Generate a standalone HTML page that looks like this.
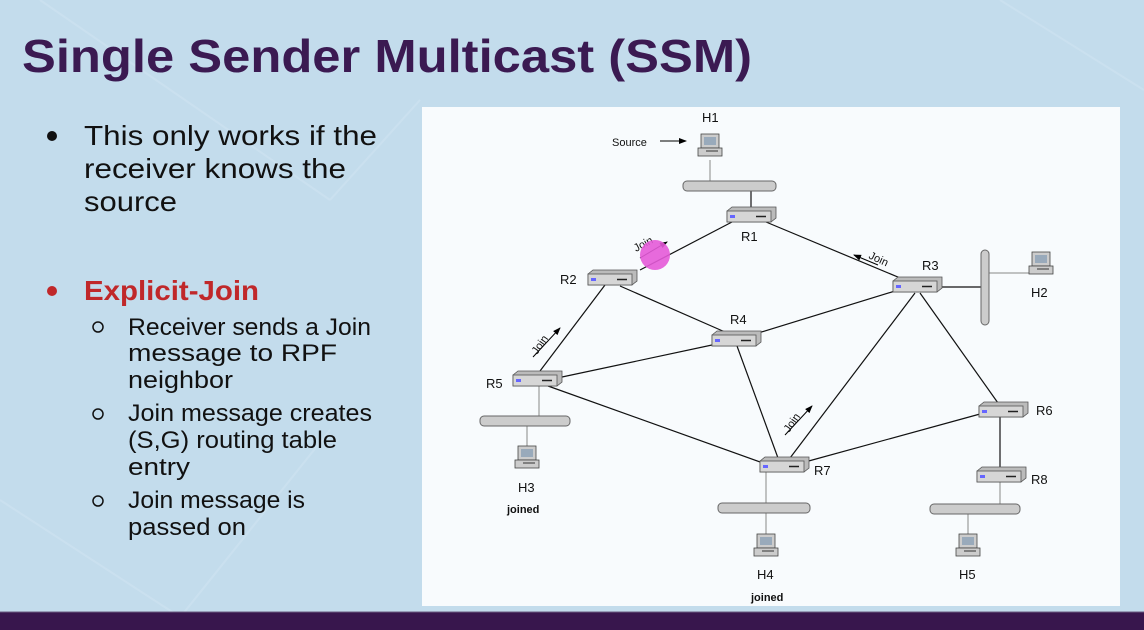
<!DOCTYPE html>
<html><head><meta charset="utf-8"><style>
html,body{margin:0;padding:0;width:1144px;height:630px;overflow:hidden;background:#c3dcec}
svg{display:block}
text{font-family:"Liberation Sans",sans-serif}
</style></head><body>
<svg width="1144" height="630" viewBox="0 0 1144 630" xmlns="http://www.w3.org/2000/svg">
<defs>
<g id="rt">
<polygon points="0,4 5,0 49,0 49,11 44,15 0,15" fill="#bbb" stroke="#555" stroke-width="0.8"/>
<rect x="0" y="4" width="44" height="11" fill="#d6d6d6" stroke="#555" stroke-width="0.8"/>
<rect x="3" y="8" width="5" height="3" fill="#66f"/>
<line x1="29" y1="9.5" x2="39" y2="9.5" stroke="#222" stroke-width="1.5"/>
</g>
<g id="pc">
<rect x="-9" y="-13" width="18" height="14" fill="#ccc" stroke="#444" stroke-width="0.8"/>
<rect x="-6" y="-10" width="12" height="8" fill="#9ab"/>
<rect x="-12" y="1" width="24" height="8" fill="#ccc" stroke="#444" stroke-width="0.8"/>
<line x1="-4" y1="4" x2="8" y2="4" stroke="#333"/>
</g>
<marker id="ah" markerWidth="8" markerHeight="8" refX="7" refY="4" orient="auto" markerUnits="userSpaceOnUse"><path d="M0,1 L8,4 L0,7z" fill="#000"/></marker>
</defs>
<rect width="1144" height="630" fill="#c3dcec"/>
<g stroke="#d0e4f1" stroke-width="2" opacity="0.6">
<line x1="40" y1="0" x2="330" y2="200"/><line x1="330" y1="200" x2="420" y2="100"/><line x1="0" y1="500" x2="200" y2="630"/>
<line x1="170" y1="630" x2="330" y2="430"/><line x1="1000" y1="0" x2="1144" y2="90"/>
</g>
<text x="22" y="72" font-size="46" font-weight="bold" fill="#3b1a52" textLength="730" lengthAdjust="spacingAndGlyphs">Single Sender Multicast (SSM)</text>
<g font-size="28" fill="#111">
<circle cx="52" cy="136" r="5" fill="#111"/>
<text x="84" y="145" textLength="293" lengthAdjust="spacingAndGlyphs">This only works if the</text>
<text x="84" y="178" textLength="262" lengthAdjust="spacingAndGlyphs">receiver knows the</text>
<text x="84" y="211" textLength="93" lengthAdjust="spacingAndGlyphs">source</text>
<circle cx="52" cy="291" r="5" fill="#c0282a"/>
<text x="84" y="300" font-weight="bold" fill="#c0282a" textLength="175" lengthAdjust="spacingAndGlyphs">Explicit-Join</text>
</g>
<g font-size="24" fill="#111">
<circle cx="98" cy="327" r="5" fill="none" stroke="#111" stroke-width="1.5"/>
<text x="128" y="335" textLength="243" lengthAdjust="spacingAndGlyphs">Receiver sends a Join</text>
<text x="128" y="361" textLength="209" lengthAdjust="spacingAndGlyphs">message to RPF</text>
<text x="128" y="388" textLength="105" lengthAdjust="spacingAndGlyphs">neighbor</text>
<circle cx="98" cy="414" r="5" fill="none" stroke="#111" stroke-width="1.5"/>
<text x="128" y="421" textLength="244" lengthAdjust="spacingAndGlyphs">Join message creates</text>
<text x="128" y="448" textLength="209" lengthAdjust="spacingAndGlyphs">(S,G) routing table</text>
<text x="128" y="475" textLength="62" lengthAdjust="spacingAndGlyphs">entry</text>
<circle cx="98" cy="501" r="5" fill="none" stroke="#111" stroke-width="1.5"/>
<text x="128" y="508" textLength="177" lengthAdjust="spacingAndGlyphs">Join message is</text>
<text x="128" y="535" textLength="118" lengthAdjust="spacingAndGlyphs">passed on</text>
</g>
<rect x="422" y="107" width="698" height="499" fill="#f8fbfd"/>
<rect x="0" y="612" width="1144" height="18" fill="#38164d"/>
<line x1="0" y1="612" x2="1144" y2="612" stroke="#6a5a80" stroke-width="1"/>
<g stroke="#111" stroke-width="1.2">
<line x1="640" y1="270" x2="732" y2="222"/><line x1="766" y1="222" x2="905" y2="280"/>
<line x1="605" y1="285" x2="540" y2="371"/><line x1="620" y1="286" x2="725" y2="332"/>
<line x1="755" y1="334" x2="895" y2="291"/><line x1="712" y1="345" x2="562" y2="377"/>
<line x1="737" y1="346" x2="778" y2="458"/><line x1="548" y1="386" x2="763" y2="463"/>
<line x1="915" y1="293" x2="790" y2="458"/><line x1="920" y1="293" x2="998" y2="403"/>
<line x1="980" y1="414" x2="805" y2="462"/><line x1="1000" y1="417" x2="1000" y2="467"/>
<line x1="942" y1="287" x2="985" y2="287"/><line x1="751" y1="186" x2="751" y2="208"/>
</g>
<g stroke="#888" stroke-width="1">
<line x1="710" y1="160" x2="710" y2="186"/><line x1="985" y1="273" x2="1030" y2="273"/>
<line x1="539" y1="386" x2="539" y2="421"/><line x1="527" y1="421" x2="527" y2="448"/>
<line x1="766" y1="472" x2="766" y2="535"/><line x1="1000" y1="482" x2="1000" y2="509"/><line x1="968" y1="509" x2="968" y2="535"/>
</g>
<g fill="#ccc" stroke="#666" stroke-width="1">
<rect x="683" y="181" width="93" height="10" rx="4"/>
<rect x="480" y="416" width="90" height="10" rx="4"/>
<rect x="718" y="503" width="92" height="10" rx="4"/>
<rect x="930" y="504" width="90" height="10" rx="4"/>
<rect x="981" y="250" width="8" height="75" rx="4"/>
</g>
<use href="#rt" x="727" y="207"/><use href="#rt" x="588" y="270"/><use href="#rt" x="893" y="277"/>
<use href="#rt" x="712" y="331"/><use href="#rt" x="513" y="371"/><use href="#rt" x="979" y="402"/>
<use href="#rt" x="760" y="457"/><use href="#rt" x="977" y="467"/>
<use href="#pc" x="710" y="147"/><use href="#pc" x="1041" y="265"/><use href="#pc" x="527" y="459"/>
<use href="#pc" x="766" y="547"/><use href="#pc" x="968" y="547"/>
<g font-size="13" fill="#111">
<text x="702" y="122">H1</text><text x="741" y="241">R1</text><text x="560" y="284">R2</text>
<text x="922" y="270">R3</text><text x="730" y="324">R4</text><text x="486" y="388">R5</text>
<text x="1036" y="415">R6</text><text x="814" y="475">R7</text><text x="1031" y="484">R8</text>
<text x="1031" y="297">H2</text><text x="518" y="492">H3</text><text x="757" y="579">H4</text><text x="959" y="579">H5</text>
</g>
<g font-size="11" fill="#111">
<text x="612" y="146">Source</text>
<text x="507" y="513" font-weight="bold">joined</text>
<text x="751" y="601" font-weight="bold">joined</text>
<text transform="translate(636,252) rotate(-28)">Join</text>
<text transform="translate(868,258) rotate(25)">Join</text>
<text transform="translate(537,355) rotate(-55)">Join</text>
<text transform="translate(789,433) rotate(-55)">Join</text>
</g>
<g stroke="#000" stroke-width="1" marker-end="url(#ah)">
<line x1="660" y1="141" x2="686" y2="141"/>
<line x1="640" y1="258" x2="667" y2="242"/>
<line x1="878" y1="265" x2="854" y2="255"/>
<line x1="533" y1="357" x2="560" y2="328"/>
<line x1="785" y1="435" x2="812" y2="406"/>
</g>
<circle cx="655" cy="255" r="15" fill="#e45ad8" opacity="0.9"/>
</svg>
</body></html>
